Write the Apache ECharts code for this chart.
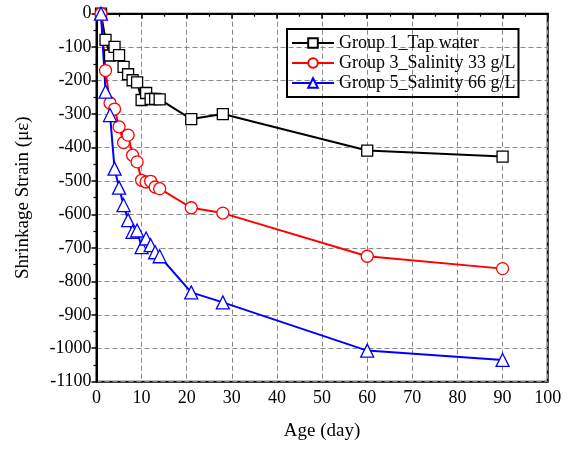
<!DOCTYPE html>
<html>
<head>
<meta charset="utf-8">
<script src="https://cdn.jsdelivr.net/npm/echarts@6/dist/echarts.min.js"></script>
<style>html,body{margin:0;padding:0;background:#fff;}#chart{width:568px;height:450px;}</style>
</head>
<body>
<div id="chart"></div>
<script>
var days = [1, 2, 3, 4, 5, 6, 7, 8, 9, 10, 11, 12, 13, 14, 21, 28, 60, 90];
var group1 = [0, -78, -125, -99, -124, -159, -181, -199, -205, -258, -237, -255, -255, -256, -315, -300, -409, -427];
var group3 = [0, -170, -267, -285, -338, -385, -363, -423, -443, -498, -503, -501, -518, -523, -580, -596, -725, -762];
var group5 = [0, -233, -303, -463, -520, -572, -617, -652, -648, -698, -672, -692, -713, -725, -833, -863, -1007, -1035];
var seriesNames = ['Group 1_Tap water', 'Group 3_Salinity 33 g/L', 'Group 5_Salinity 66 g/L'];

var font = 'Liberation Serif';
function pairs(vals) { return days.map(function (d, i) { return [d, vals[i]]; }); }
function mkSeries(name, vals, color, symbol, size) {
  return {
    name: name, type: 'line', data: pairs(vals),
    symbol: symbol, symbolSize: size,
    lineStyle: { color: color, width: 2 },
    itemStyle: { color: '#fff', borderColor: color, borderWidth: 1.3 },
    emphasis: { disabled: true }
  };
}
var chart = echarts.init(document.getElementById('chart'));
chart.setOption({
  animation: false,
  backgroundColor: '#fff',
  textStyle: { fontFamily: font },
  grid: { left: 96.5, right: 20.3, top: 13.7, bottom: 68.3, show: true, borderColor: '#000', borderWidth: 2 },
  legend: {
    orient: 'vertical', left: 287, top: 29,
    padding: [5, 3, 5, 4], borderColor: '#000', borderWidth: 2,
    itemWidth: 42, itemHeight: 12, itemGap: 2,
    textStyle: { fontFamily: font, fontSize: 18, color: '#000' },
    data: seriesNames
  },
  xAxis: {
    type: 'value', min: 0, max: 100, interval: 10,
    name: 'Age (day)', nameLocation: 'middle', nameGap: 40,
    nameTextStyle: { fontFamily: font, fontSize: 19, color: '#000' },
    axisLine: { lineStyle: { color: '#000', width: 2 } },
    axisTick: { length: 5, lineStyle: { color: '#000', width: 1.5 } },
    minorTick: { show: true, splitNumber: 2, length: 3, lineStyle: { color: '#000', width: 1.2 } },
    axisLabel: { fontFamily: font, fontSize: 18, color: '#000', margin: 8 },
    splitLine: { show: true, lineStyle: { color: '#888', type: [5, 3], width: 1 } }
  },
  yAxis: {
    type: 'value', min: -1100, max: 0, interval: 100,
    name: 'Shrinkage Strain (με)', nameLocation: 'middle', nameGap: 64,
    nameTextStyle: { fontFamily: font, fontSize: 19, color: '#000' },
    axisLine: { lineStyle: { color: '#000', width: 2 } },
    axisTick: { length: 5, lineStyle: { color: '#000', width: 1.5 } },
    minorTick: { show: true, splitNumber: 2, length: 3, lineStyle: { color: '#000', width: 1.2 } },
    axisLabel: { fontFamily: font, fontSize: 18, color: '#000', margin: 5, formatter: function (v) { return String(v); } },
    splitLine: { show: true, lineStyle: { color: '#888', type: [5, 3], width: 1 } }
  },
  series: [
    mkSeries(seriesNames[0], group1, '#000000', 'rect', 11),
    mkSeries(seriesNames[1], group3, '#ff0000', 'circle', 12),
    mkSeries(seriesNames[2], group5, '#0000ff', 'triangle', 13)
  ]
});
</script>
</body>
</html>
